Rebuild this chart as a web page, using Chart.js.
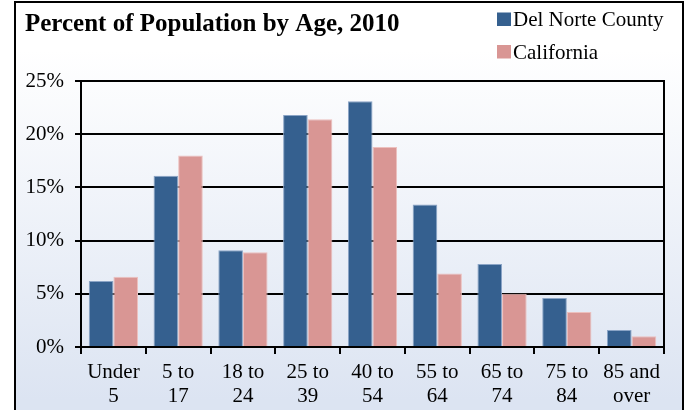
<!DOCTYPE html>
<html>
<head>
<meta charset="utf-8">
<script src="https://cdn.jsdelivr.net/npm/chart.js@4/dist/chart.umd.min.js"></script>
<style>
  html, body { margin: 0; padding: 0; background: #ffffff; }
  #wrap { width: 686px; height: 410px; }
</style>
</head>
<body>
<div id="wrap"><canvas id="c" width="686" height="410"></canvas></div>
<script>
// Age groups (two-line labels) and share of population in each, 2010
const categories = [
  ['Under', '5'], ['5 to', '17'], ['18 to', '24'], ['25 to', '39'], ['40 to', '54'],
  ['55 to', '64'], ['65 to', '74'], ['75 to', '84'], ['85 and', 'over']
];
const delNorte   = [6.2, 16.1, 9.1, 21.8, 23.1, 13.4, 7.8, 4.6, 1.6];
const california = [6.6, 18.0, 8.9, 21.4, 18.8, 6.9, 5.0, 3.3, 1.0];
const seriesNames = ['Del Norte County', 'California'];
const yTickValues = [0, 5, 10, 15, 20, 25];
const chartTitle = 'Percent of Population by Age, 2010';

const SERIF = "'Liberation Serif', 'Times New Roman', serif";
const BLUE = '#35608f';
const PINK = '#d99694';

// Frame, gradient backdrop, title and stacked legend
const decor = {
  id: 'decor',
  beforeDraw(chart) {
    const ctx = chart.ctx;
    ctx.save();
    ctx.fillStyle = '#ffffff';
    ctx.fillRect(0, 0, chart.width, chart.height);
    const g = ctx.createLinearGradient(0, 50, 0, 400);
    g.addColorStop(0, '#ffffff');
    g.addColorStop(1, '#dce4f2');
    ctx.fillStyle = g;
    ctx.fillRect(15, 2, 668, chart.height);
    ctx.restore();
  },
  afterDraw(chart) {
    const ctx = chart.ctx;
    const a = chart.chartArea;
    ctx.save();
    // outer frame
    ctx.strokeStyle = '#000';
    ctx.lineWidth = 2;
    ctx.strokeRect(15, 2, 668, chart.height + 4);
    // plot box
    ctx.strokeRect(Math.round(a.left), Math.round(a.top), Math.round(a.right - a.left), Math.round(a.bottom - a.top));
    // title
    ctx.fillStyle = '#000';
    ctx.textBaseline = 'alphabetic';
    ctx.textAlign = 'left';
    ctx.font = 'bold 25px ' + SERIF;
    ctx.fillText(chartTitle, 25, 31);
    // legend
    ctx.font = '21px ' + SERIF;
    chart.data.datasets.forEach((ds, i) => {
      const y = 12.5 + i * 32.5;
      ctx.fillStyle = ds.backgroundColor;
      ctx.fillRect(497, y, 14, 13.5);
      ctx.fillStyle = '#000';
      ctx.fillText(ds.label, 513, y + 13.5);
    });
    ctx.restore();
  }
};

new Chart(document.getElementById('c'), {
  type: 'bar',
  data: {
    labels: categories,
    datasets: [
      { label: seriesNames[0], data: delNorte, backgroundColor: BLUE, borderColor: '#8aa4c6', borderWidth: 1 },
      { label: seriesNames[1], data: california, backgroundColor: PINK, borderColor: '#ecc0be', borderWidth: 1 }
    ]
  },
  options: {
    responsive: false,
    animation: false,
    devicePixelRatio: 1,
    layout: { padding: { top: 81, right: 22, bottom: 0, left: 15 } },
    plugins: { legend: { display: false }, title: { display: false }, tooltip: { enabled: false } },
    datasets: { bar: { categoryPercentage: 0.76, barPercentage: 1.0 } },
    scales: {
      x: {
        afterFit(s) { s.height = 63; },
        grid: { offset: true, drawOnChartArea: false, drawTicks: true, tickLength: 7, color: '#000', lineWidth: 2 },
        border: { display: true, color: '#000', width: 2 },
        ticks: { color: '#000', font: { family: SERIF, size: 21, lineHeight: 1.12 }, padding: 7, maxRotation: 0, autoSkip: false }
      },
      y: {
        min: 0, max: 25,
        afterFit(s) { s.width = 66; },
        afterBuildTicks(s) { s.ticks = yTickValues.map(v => ({ value: v })); },
        grid: { color: '#000', lineWidth: 2, tickLength: 6, drawTicks: true },
        border: { display: true, color: '#000', width: 2 },
        ticks: { color: '#000', font: { family: SERIF, size: 21 }, padding: 11, callback: v => v + '%' }
      }
    }
  },
  plugins: [decor]
});
</script>
</body>
</html>
